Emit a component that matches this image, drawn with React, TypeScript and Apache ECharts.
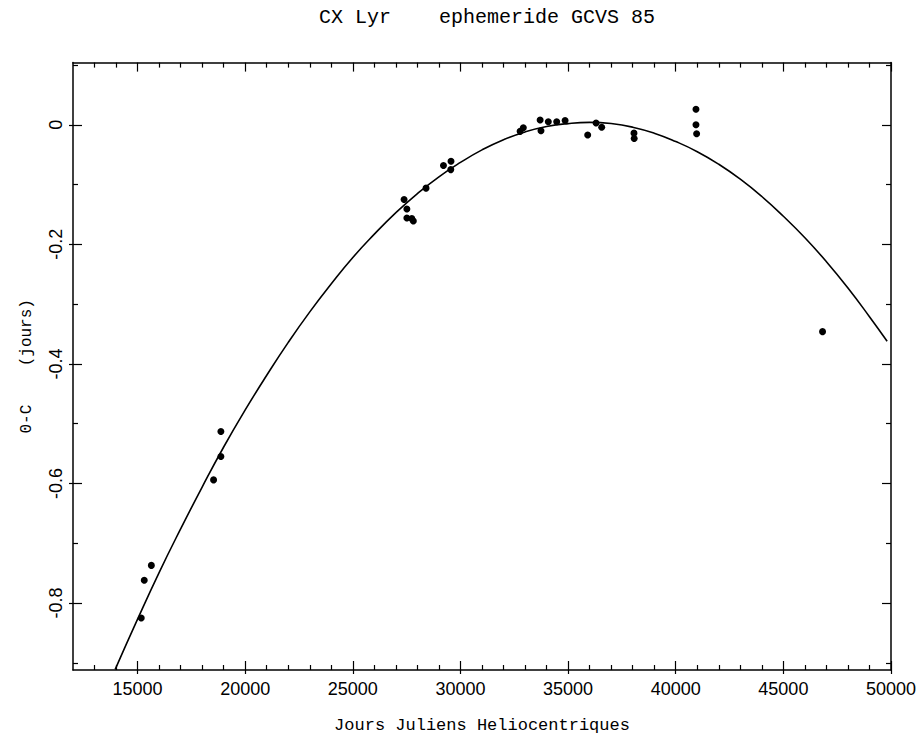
import React, { useEffect, useRef } from "react";
import * as echarts from "echarts";

const titleText = "CX Lyr    ephemeride GCVS 85";
const xAxisTitle = "Jours Juliens Heliocentriques";
const yAxisTitle = "0-C    (jours)";

const xMajorTicks = [15000, 20000, 25000, 30000, 35000, 40000, 45000, 50000];
const xMinorTicks = [
  13000, 14000, 16000, 17000, 18000, 19000, 21000, 22000, 23000, 24000,
  26000, 27000, 28000, 29000, 31000, 32000, 33000, 34000, 36000, 37000,
  38000, 39000, 41000, 42000, 43000, 44000, 46000, 47000, 48000, 49000,
];
const yMajorTicks = [-0.8, -0.6, -0.4, -0.2, 0];
const yMinorTicks = [-0.9, -0.7, -0.5, -0.3, -0.1, 0.1];

// observed O-C points (JD - 2400000, days)
const obsJD = [
  15170, 15310, 15640, 18530, 18870, 18870,
  27380, 27510, 27510, 27740, 27810, 28400, 29210, 29560, 29550,
  32770, 32920, 33700, 33740, 34080, 34470, 34860, 35910, 36300, 36560,
  38060, 38070, 40940, 40940, 40970, 46820,
];
const obsOC = [
  -0.825, -0.762, -0.737, -0.594, -0.555, -0.513,
  -0.125, -0.141, -0.156, -0.157, -0.161, -0.106, -0.068, -0.061, -0.075,
  -0.011, -0.005, 0.008, -0.010, 0.005, 0.005, 0.007, -0.017, 0.003, -0.004,
  -0.014, -0.023, 0.026, 0.0, -0.015, -0.346,
];

// fitted curve
const fitJD = [
  13960, 15000, 16000, 17000, 18000, 19000, 20000, 21000, 22000, 23000,
  24000, 25000, 26000, 27000, 28000, 29000, 30000, 31000, 32000, 33000,
  34000, 35000, 36000, 37000, 38000, 39000, 40000, 41000, 42000, 43000,
  44000, 45000, 46000, 47000, 48000, 49000, 49820,
];
const fitOC = [
  -0.911, -0.827, -0.749, -0.676, -0.606, -0.539, -0.477, -0.419, -0.364, -0.313,
  -0.266, -0.222, -0.183, -0.147, -0.115, -0.087, -0.063, -0.042, -0.025, -0.012,
  -0.003, 0.002, 0.004, 0.002, -0.004, -0.014, -0.028, -0.045, -0.066, -0.091,
  -0.120, -0.153, -0.189, -0.229, -0.273, -0.321, -0.362,
];

const X_MIN = 12000;
const X_MAX = 50000;
const Y_MIN = -0.912;
const Y_MAX = 0.104;

const black = "#000";
const labelFont = "Liberation Sans";
const monoFont = "Liberation Mono";

function xAxisDef(position: "top" | "bottom", ticks: number[], len: number, inside: boolean, withLabels: boolean, withLine: boolean, name?: string) {
  return {
    type: "value",
    position,
    min: X_MIN,
    max: X_MAX,
    name: name || "",
    nameLocation: "middle",
    nameGap: 47,
    nameTextStyle: { fontFamily: monoFont, fontSize: 17, color: black },
    axisLine: { show: withLine, onZero: false, lineStyle: { color: black, width: 1.5 } },
    axisTick: { show: true, inside, length: len, customValues: ticks, lineStyle: { color: black, width: 1.2 } },
    axisLabel: withLabels
      ? {
          show: true,
          customValues: xMajorTicks,
          margin: 10,
          fontFamily: labelFont,
          fontSize: 18,
          color: black,
          formatter: (v: number) => String(Math.round(v)),
        }
      : { show: false },
    splitLine: { show: false },
  };
}

function yAxisDef(position: "left" | "right", ticks: number[], len: number, inside: boolean, withLabels: boolean, withLine: boolean, name?: string) {
  return {
    type: "value",
    position,
    min: Y_MIN,
    max: Y_MAX,
    name: name || "",
    nameLocation: "middle",
    nameGap: 38,
    nameRotate: 90,
    nameTextStyle: { fontFamily: monoFont, fontSize: 16, color: black },
    axisLine: { show: withLine, onZero: false, lineStyle: { color: black, width: 1.5 } },
    axisTick: { show: true, inside, length: len, customValues: ticks, lineStyle: { color: black, width: 1.2 } },
    axisLabel: withLabels
      ? {
          show: true,
          customValues: yMajorTicks,
          rotate: 90,
          margin: 8,
          fontFamily: labelFont,
          fontSize: 18,
          color: black,
          formatter: (v: number) => (Math.abs(v) < 1e-9 ? "0" : v.toFixed(1)),
        }
      : { show: false },
    splitLine: { show: false },
  };
}

export default function App() {
  const ref = useRef<HTMLDivElement>(null);
  useEffect(() => {
    if (!ref.current) return;
    const chart = echarts.init(ref.current, null, { renderer: "svg" });
    chart.setOption({
      animation: false,
      backgroundColor: "#fff",
      title: {
        text: titleText,
        left: 482,
        top: 2,
        textAlign: "center",
        textStyle: { fontFamily: monoFont, fontSize: 20, fontWeight: "normal", color: black },
      },
      grid: { left: 73, right: 32, top: 62.6, bottom: 67, containLabel: false },
      xAxis: [
        xAxisDef("bottom", xMinorTicks, 5, true, true, true, xAxisTitle),
        xAxisDef("bottom", xMajorTicks, 9, true, false, false),
        xAxisDef("bottom", xMajorTicks, 4, false, false, false),
        xAxisDef("top", xMinorTicks, 5, true, false, true),
        xAxisDef("top", xMajorTicks, 9, true, false, false),
      ],
      yAxis: [
        yAxisDef("left", yMinorTicks, 5, true, true, true, yAxisTitle),
        yAxisDef("left", yMajorTicks, 9, true, false, false),
        yAxisDef("left", yMajorTicks, 4, false, false, false),
        yAxisDef("right", yMinorTicks, 5, true, false, true),
        yAxisDef("right", yMajorTicks, 9, true, false, false),
      ],
      series: [
        {
          type: "line",
          xAxisIndex: 0,
          yAxisIndex: 0,
          data: fitJD.map((x, i) => [x, fitOC[i]]),
          smooth: true,
          showSymbol: false,
          symbol: "none",
          lineStyle: { color: black, width: 1.6 },
          silent: true,
        },
        {
          type: "scatter",
          xAxisIndex: 0,
          yAxisIndex: 0,
          data: obsJD.map((x, i) => [x, obsOC[i]]),
          symbol: "circle",
          symbolSize: 7,
          itemStyle: { color: black, opacity: 1 },
        },
      ],
    });
    return () => chart.dispose();
  }, []);
  return <div ref={ref} style={{ position: "absolute", left: 0, top: 0, width: 923, height: 739 }} />;
}
